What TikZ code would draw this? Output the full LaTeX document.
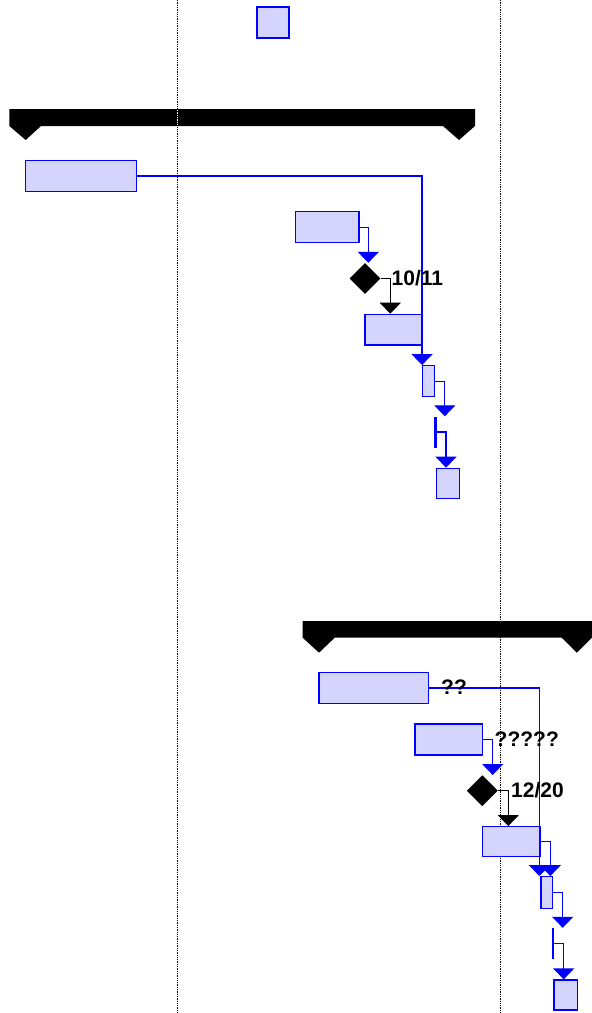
\documentclass[tikz,border=0pt]{standalone}
\usepackage{fontspec}
\setmainfont{Liberation Sans}
\usetikzlibrary{arrows.meta,shapes.geometric}
\definecolor{taskfill}{RGB}{212,212,252}
\begin{document}
\begin{tikzpicture}[x=1pt,y=-1pt,
 task/.style args = {#1/#2}{%
      rectangle, draw=blue, line width=1.3pt, fill=taskfill,
      inner sep=0, minimum width=#1pt, minimum height=#2pt},
 milestone/.style = {diamond, fill=black, inner sep=0,
      minimum size=31pt, aspect=1},
 zerotask/.style = {rectangle, fill=blue, inner sep=0,
      minimum width=2.2pt, minimum height=31pt},
 lbl/.style = {font=\bfseries\fontsize{21}{25}\selectfont,
      inner sep=0, anchor=west},
 link/.style = {draw=blue, line width=1.3pt,
      -{Triangle[width=21pt,length=11pt]}},
 dep/.style = {draw=black, line width=1pt,
      -{Triangle[width=21pt,length=11pt]}},
 gridline/.style = {line width=1.5pt, dash pattern=on 1.3pt off 1pt}
                    ]
\useasboundingbox (0,0) rectangle (592,1013);
% time grid
\draw[gridline] (177.5,0) -- (177.5,1013);
\draw[gridline] (500.7,0) -- (500.7,1013);
% summary bars
\fill (9.3,109) -- (475,109) -- (475,126) -- (459,140) -- (443,126)
      -- (41,126) -- (25.7,140) -- (9.3,126) -- cycle;
\draw[gridline,white] (177.5,110) -- (177.5,126);
\fill (302.7,621) -- (592,621) -- (592,637.7) -- (576.8,652.7) -- (561.7,637.7)
      -- (334.7,637.7) -- (319,652.7) -- (302.7,637.7) -- cycle;
%
\node(T0) [task=32/31]    at (273,22.5)  {};
\node(A)  [task=111/30.6] at (81.2,176)  {};
\node(B)  [task=63.7/31]  at (327,227.2) {};
\node(M1) [milestone]     at (365,278.5) {};
\node(C)  [task=56.7/30.7] at (393.3,329.7) {};
\node(D)  [task=11.6/31]  at (428.5,381.2) {};
\node(Z1) [zerotask]      at (435.5,432) {};
\node(E)  [task=23.4/30]  at (448,483.3) {};
%
\node(F)  [task=109.3/30.6] at (373.7,688) {};
\node(G)  [task=67.7/31]  at (448.8,739.5) {};
\node(M2) [milestone]     at (482.3,790.7) {};
\node(H)  [task=57.3/30]  at (511.3,841.7) {};
\node(I)  [task=11.3/31.6] at (546.7,892.5) {};
\node(Z2) [zerotask]      at (553,943.5) {};
\node(J)  [task=23.3/30]  at (565.7,995) {};
%
\draw[link] (A.east)  -| (D.north west);
\draw[link] (B.east)  -| ([xshift=3.3pt]M1.north);
\draw[dep]  (M1.east) -| ([xshift=-3pt]C.north);
\draw[link] (D.east)  -| ([xshift=9.3pt]Z1.north);
\draw[link] (Z1.east) -| ([xshift=-2pt]E.north);
%
\draw[link] (F.east)  -| ([xshift=-1pt]I.north west);
\draw[link] (G.east)  -| ([xshift=10.4pt]M2.north);
\draw[dep]  (M2.east) -| ([xshift=-3pt]H.north);
\draw[link] (H.east)  -| ([xshift=3.6pt]I.north);
\draw[link] (I.east)  -| ([xshift=9.7pt]Z2.north);
\draw[link] (Z2.east) -| ([xshift=-2pt]J.north);
%
\node(l1) [lbl] at (391.5,278.5) {10/11};
\node(l2) [lbl] at (441,687.5) {??};
\node(l3) [lbl] at (494.5,739.5) {?????};
\node(l4) [lbl] at (511,790.5) {12/20};
\end{tikzpicture}
\end{document}
